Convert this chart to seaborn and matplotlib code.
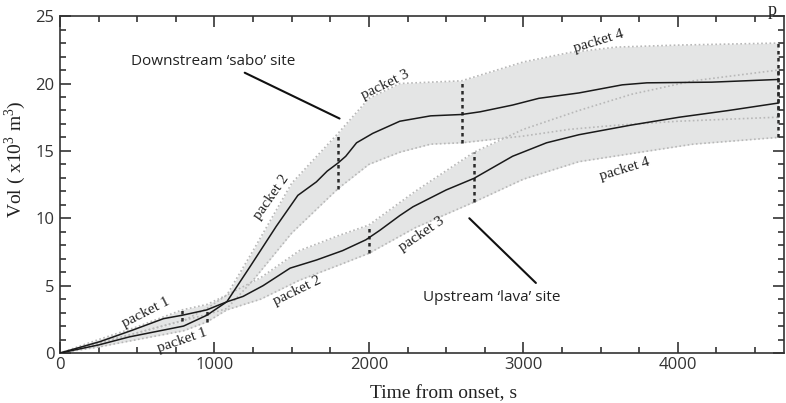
import numpy as np
import pandas as pd
import matplotlib
matplotlib.use("Agg")
import matplotlib.pyplot as plt
from matplotlib.ticker import MultipleLocator
import seaborn as sns

# downstream 'sabo' site, central estimate
sabo_t = [0, 260, 470, 670, 790, 950, 1080, 1230, 1400, 1540, 1660, 1730, 1800, 1850,
          1920, 2025, 2200, 2400, 2600, 2720, 2930, 3100, 3360, 3640, 3800, 4220, 4650]
sabo_v = [0, 0.85, 1.7, 2.55, 2.8, 3.2, 3.8, 6.4, 9.4, 11.7, 12.7, 13.5, 14.1, 14.6,
          15.6, 16.3, 17.2, 17.6, 17.7, 17.9, 18.4, 18.9, 19.3, 19.9, 20.05, 20.1, 20.3]
# downstream band
sabo_band_t = [0, 250, 500, 790, 950, 1080, 1250, 1500, 1800, 2000, 2200, 2400, 2600,
               3000, 3300, 3600, 4000, 4650]
sabo_lo = [0, 0.7, 1.5, 2.4, 2.85, 3.3, 5.4, 8.9, 12.2, 14.0, 14.9, 15.5, 15.6,
           16.1, 16.6, 16.9, 17.2, 17.5]
sabo_hi = [0, 1.0, 1.95, 3.2, 3.6, 4.3, 7.6, 12.6, 16.3, 18.9, 20.0, 20.1, 20.2,
           21.6, 22.3, 22.7, 22.85, 23.0]
sabo_packets = [790, 1800, 2600, 4650]

# upstream 'lava' site
lava_t = [0, 250, 450, 625, 800, 950, 1080, 1185, 1315, 1490, 1660, 1830, 1980, 2070,
          2200, 2285, 2500, 2680, 2930, 3150, 3360, 3690, 4010, 4330, 4650]
lava_v = [0, 0.6, 1.2, 1.6, 2.0, 2.8, 3.8, 4.2, 5.0, 6.3, 6.9, 7.6, 8.4, 9.1,
          10.2, 10.85, 12.1, 12.96, 14.6, 15.6, 16.2, 16.9, 17.5, 18.0, 18.55]
lava_band_t = [0, 250, 500, 800, 950, 1080, 1300, 1550, 1800, 2000, 2300, 2680, 3000,
               3360, 3700, 4100, 4650]
lava_lo = [0, 0.45, 1.0, 1.65, 2.3, 3.2, 4.0, 5.4, 6.5, 7.4, 9.3, 11.2, 12.9,
           14.2, 14.8, 15.5, 16.0]
lava_hi = [0, 0.75, 1.5, 2.4, 3.3, 4.3, 5.6, 7.6, 8.7, 9.5, 12.0, 14.9, 16.6,
           18.0, 19.2, 20.2, 21.0]
lava_packets = [950, 2000, 2680, 4650]

# packet labels: text, x, y, rotation
packet_labels = [
    ("packet 1", 554, 3.0, 27), ("packet 1", 791, 0.9, 19),
    ("packet 2", 1368, 11.6, 55), ("packet 2", 1534, 4.6, 26),
    ("packet 3", 2107, 19.9, 26), ("packet 3", 2344, 8.8, 34),
    ("packet 4", 3491, 23.1, 17), ("packet 4", 3657, 13.6, 17),
]

sns.set_style("ticks")
plt.rcParams["font.family"] = ["Open Sans", "DejaVu Sans"]
plt.rcParams["mathtext.fontset"] = "custom"
plt.rcParams["mathtext.rm"] = "Liberation Serif"

ink = "#333333"
fig = plt.figure(figsize=(7.86, 4.03), dpi=100)
ax = fig.add_axes([0.0763, 0.124, 0.9217, 0.836])

for bt, lo, hi in [(sabo_band_t, sabo_lo, sabo_hi), (lava_band_t, lava_lo, lava_hi)]:
    ax.fill_between(bt, lo, hi, color="#e4e5e5", lw=0, zorder=1)
for bt, lo, hi in [(sabo_band_t, sabo_lo, sabo_hi), (lava_band_t, lava_lo, lava_hi)]:
    ax.plot(bt, lo, color="#b8b8b8", lw=1.2, ls=(0, (1, 1.5)), zorder=2)
    ax.plot(bt, hi, color="#b8b8b8", lw=1.2, ls=(0, (1, 1.5)), zorder=2)

sabo = pd.DataFrame({"t": sabo_t, "v": sabo_v})
lava = pd.DataFrame({"t": lava_t, "v": lava_v})
sns.lineplot(data=sabo, x="t", y="v", color="#1a1a1a", lw=1.1, ax=ax, zorder=4)
sns.lineplot(data=lava, x="t", y="v", color="#1a1a1a", lw=1.1, ax=ax, zorder=4)

for pk, bt, lo, hi in [(sabo_packets, sabo_band_t, sabo_lo, sabo_hi),
                       (lava_packets, lava_band_t, lava_lo, lava_hi)]:
    ax.vlines(pk, np.interp(pk, bt, lo), np.interp(pk, bt, hi), colors="#2a2a2a",
              lw=1.8, linestyles=(0, (1.4, 1.4)), zorder=3)

for txt, x, y, rot in packet_labels:
    ax.text(x, y, txt, rotation=rot, ha="center", va="center", fontsize=11,
            family="Liberation Serif", color="#222222", rotation_mode="anchor")

ax.text(995, 21.6, "Downstream \u2018sabo\u2019 site", ha="center", va="center",
        fontsize=11, color="#222222")
ax.annotate("", xy=(1810, 17.4), xytext=(1196, 20.8),
            arrowprops=dict(arrowstyle="-", lw=1.5, color="#111111", shrinkA=0, shrinkB=0))
ax.text(2793, 4.1, "Upstream \u2018lava\u2019 site", ha="center", va="center",
        fontsize=11, color="#222222")
ax.annotate("", xy=(3081, 5.2), xytext=(2650, 10.0),
            arrowprops=dict(arrowstyle="-", lw=1.5, color="#111111", shrinkA=0, shrinkB=0))

fig.text(0.977, 0.962, "p", fontsize=13, family="Liberation Serif", color="#222222")

ax.set_xlim(0, 4690)
ax.set_ylim(0, 25)
ax.xaxis.set_major_locator(MultipleLocator(1000))
ax.xaxis.set_minor_locator(MultipleLocator(250))
ax.yaxis.set_major_locator(MultipleLocator(5))
ax.yaxis.set_minor_locator(MultipleLocator(1))
ax.tick_params(which="both", direction="in", top=True, right=True, colors=ink,
               labelsize=12, width=1.2)
ax.tick_params(which="major", length=8)
ax.tick_params(which="minor", length=4)
ax.tick_params(axis="y", pad=4)
ax.tick_params(axis="x", pad=3)
for s in ax.spines.values():
    s.set_color(ink)
    s.set_linewidth(1.2)

ax.set_xlabel("Time from onset, s", family="Liberation Serif", fontsize=14, color="#222222")
ax.set_ylabel("Vol ( x10$^3$ m$^3$)", family="Liberation Serif", fontsize=14, color="#222222")
ax.xaxis.set_label_coords(0.53, -0.095)
ax.yaxis.set_label_coords(-0.044, 0.576)

fig.savefig("out.png", dpi=100)
